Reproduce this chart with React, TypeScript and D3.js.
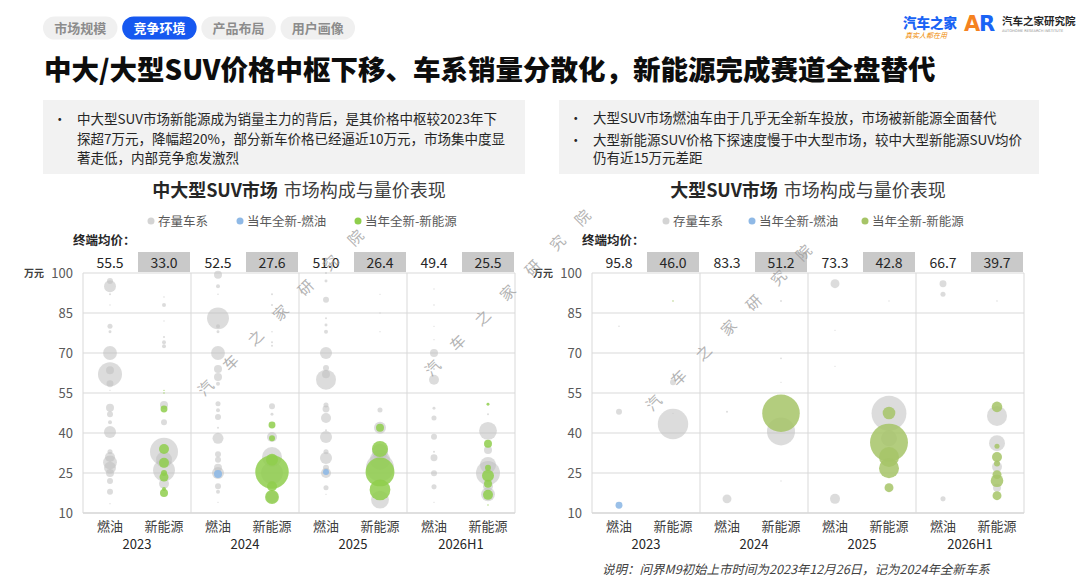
import React from "react";
import * as d3 from "d3";

// ---- data ----
const years = ["2023", "2024", "2025", "2026H1"];
const powertrains = ["燃油", "新能源"];
const yTicks = [10, 25, 40, 55, 70, 85, 100];
const legendLabels = ["存量车系", "当年全新-燃油", "当年全新-新能源"];

// terminal average price, order: year x powertrain
const midLargeAvgPrice = [55.5, 33.0, 52.5, 27.6, 51.0, 26.4, 49.4, 25.5];
const largeAvgPrice = [95.8, 46.0, 83.3, 51.2, 73.3, 42.8, 66.7, 39.7];

type Bubble = [string, string, number, number]; // year, powertrain, price (万元), sales

// 中大型SUV 存量车系
const midLargeStock: Bubble[] = [
	["2023", "燃油", 97, 2.25], ["2023", "燃油", 95, 9], ["2023", "燃油", 92, 0.25],
	["2023", "燃油", 88, 0.1], ["2023", "燃油", 80, 1.6], ["2023", "燃油", 78, 0.55],
	["2023", "燃油", 70, 12], ["2023", "燃油", 63.5, 4], ["2023", "燃油", 62, 36],
	["2023", "燃油", 58.5, 3], ["2023", "燃油", 56, 0.1], ["2023", "燃油", 49.5, 4],
	["2023", "燃油", 47, 2.25], ["2023", "燃油", 44, 1], ["2023", "燃油", 40.4, 9],
	["2023", "燃油", 33, 1.6], ["2023", "燃油", 31, 6.25], ["2023", "燃油", 29, 12],
	["2023", "燃油", 27, 9], ["2023", "燃油", 25, 4], ["2023", "燃油", 22, 2.25],
	["2023", "燃油", 18, 2.25], ["2023", "燃油", 13.5, 0.1],
	["2023", "新能源", 91, 0.15], ["2023", "新能源", 88, 1], ["2023", "新能源", 82, 0.1],
	["2023", "新能源", 76, 0.25], ["2023", "新能源", 74, 1], ["2023", "新能源", 72.5, 1],
	["2023", "新能源", 50.5, 4], ["2023", "新能源", 44, 2.25], ["2023", "新能源", 33, 49],
	["2023", "新能源", 30, 16], ["2023", "新能源", 26, 30], ["2023", "新能源", 21, 6.25],
	["2024", "燃油", 99.3, 4], ["2024", "燃油", 95, 1], ["2024", "燃油", 92, 0.15],
	["2024", "燃油", 83, 30], ["2024", "燃油", 80, 1], ["2024", "燃油", 78, 0.55],
	["2024", "燃油", 70, 12], ["2024", "燃油", 64, 4], ["2024", "燃油", 61, 4],
	["2024", "燃油", 58.5, 1], ["2024", "燃油", 51, 1.6], ["2024", "燃油", 48.5, 1],
	["2024", "燃油", 46, 2.25], ["2024", "燃油", 42, 0.25], ["2024", "燃油", 38, 7.5],
	["2024", "燃油", 32, 2.25], ["2024", "燃油", 30, 2.25], ["2024", "燃油", 27, 4],
	["2024", "燃油", 25, 9], ["2024", "燃油", 20, 2.25], ["2024", "燃油", 18, 1],
	["2024", "燃油", 14, 0.1],
	["2024", "新能源", 92, 0.25], ["2024", "新能源", 88, 0.25], ["2024", "新能源", 85, 0.1],
	["2024", "新能源", 78, 0.15], ["2024", "新能源", 74, 0.25], ["2024", "新能源", 72.7, 0.25],
	["2024", "新能源", 50, 2.25], ["2024", "新能源", 47, 0.55], ["2024", "新能源", 38.5, 6.25],
	["2024", "新能源", 31, 25], ["2024", "新能源", 25, 30], ["2024", "新能源", 16, 9],
	["2025", "燃油", 100, 0.25], ["2025", "燃油", 97, 0.55], ["2025", "燃油", 90, 2.25],
	["2025", "燃油", 83, 0.25], ["2025", "燃油", 80.5, 0.55], ["2025", "燃油", 78, 1],
	["2025", "燃油", 70, 9], ["2025", "燃油", 64.4, 2.25], ["2025", "燃油", 62, 4],
	["2025", "燃油", 60, 25], ["2025", "燃油", 50.5, 1.6], ["2025", "燃油", 49, 3],
	["2025", "燃油", 45.6, 6.25], ["2025", "燃油", 41, 0.25], ["2025", "燃油", 38.5, 9],
	["2025", "燃油", 33, 1.6], ["2025", "燃油", 30.6, 9], ["2025", "燃油", 27, 2.25],
	["2025", "燃油", 25, 6.25], ["2025", "燃油", 19.5, 1.6], ["2025", "燃油", 17, 0.1],
	["2025", "新能源", 92, 0.1], ["2025", "新能源", 85, 0.1], ["2025", "新能源", 78, 0.1],
	["2025", "新能源", 48.6, 1.6], ["2025", "新能源", 42, 9], ["2025", "新能源", 33, 16],
	["2025", "新能源", 30, 25], ["2025", "新能源", 27, 49], ["2025", "新能源", 15, 20],
	["2026H1", "燃油", 94, 0.1], ["2026H1", "燃油", 88, 0.15], ["2026H1", "燃油", 80, 0.1],
	["2026H1", "燃油", 75, 0.1], ["2026H1", "燃油", 70, 4], ["2026H1", "燃油", 64, 0.25],
	["2026H1", "燃油", 60, 6.25], ["2026H1", "燃油", 49.3, 0.55], ["2026H1", "燃油", 45.6, 1.6],
	["2026H1", "燃油", 38.6, 2.25], ["2026H1", "燃油", 33, 0.25], ["2026H1", "燃油", 30.7, 3],
	["2026H1", "燃油", 24.9, 2.25], ["2026H1", "燃油", 19.8, 1.6], ["2026H1", "燃油", 14, 0.1],
	["2026H1", "新能源", 47, 0.25], ["2026H1", "新能源", 40.8, 20], ["2026H1", "新能源", 33.6, 4],
	["2026H1", "新能源", 28, 16], ["2026H1", "新能源", 25, 36], ["2026H1", "新能源", 20, 6.25],
	["2026H1", "新能源", 17, 12],
];

// 中大型SUV 当年全新-燃油
const midLargeNewIce: Bubble[] = [
	["2024", "燃油", 24.6, 4],
	["2025", "燃油", 25.4, 2.25],
];

// 中大型SUV 当年全新-新能源
const midLargeNewNev: Bubble[] = [
	["2023", "新能源", 56, 0.1], ["2023", "新能源", 55, 0.1], ["2023", "新能源", 49, 3],
	["2023", "新能源", 34, 6.25], ["2023", "新能源", 28.8, 6.25], ["2023", "新能源", 25, 2.25],
	["2023", "新能源", 23.5, 5], ["2023", "新能源", 19, 1], ["2023", "新能源", 17.5, 4],
	["2024", "新能源", 43, 3], ["2024", "新能源", 38, 2.25], ["2024", "新能源", 30, 9],
	["2024", "新能源", 25.4, 70], ["2024", "新能源", 20, 6.25], ["2024", "新能源", 16, 12],
	["2025", "新能源", 42, 4], ["2025", "新能源", 34, 16], ["2025", "新能源", 25.4, 52],
	["2025", "新能源", 18.7, 27],
	["2026H1", "新能源", 50.8, 0.55], ["2026H1", "新能源", 36, 4], ["2026H1", "新能源", 27, 2.25],
	["2026H1", "新能源", 24, 9], ["2026H1", "新能源", 21, 4], ["2026H1", "新能源", 16.8, 6.25],
	["2026H1", "新能源", 13, 0.1],
];

// 大型SUV 存量车系
const largeStock: Bubble[] = [
	["2023", "燃油", 80, 0.15], ["2023", "燃油", 48, 2.25],
	["2023", "新能源", 59, 2.25], ["2023", "新能源", 47.4, 0.1], ["2023", "新能源", 43.4, 58],
	["2024", "燃油", 48, 0.25], ["2024", "燃油", 15.3, 5],
	["2024", "新能源", 89.5, 0.2], ["2024", "新能源", 68, 0.2], ["2024", "新能源", 59, 0.1],
	["2024", "新能源", 40.6, 49], ["2024", "新能源", 22, 0.1],
	["2025", "燃油", 96, 5], ["2025", "燃油", 78.5, 0.1], ["2025", "燃油", 65, 0.1],
	["2025", "燃油", 15.3, 6.25],
	["2025", "新能源", 89.5, 0.1], ["2025", "新能源", 47.4, 76], ["2025", "新能源", 38, 16],
	["2026H1", "燃油", 96, 3], ["2026H1", "燃油", 92, 1.6], ["2026H1", "燃油", 15.3, 1.6],
	["2026H1", "新能源", 89.5, 0.15], ["2026H1", "新能源", 46.4, 25], ["2026H1", "新能源", 36.2, 16],
	["2026H1", "新能源", 27.3, 6.25], ["2026H1", "新能源", 19.5, 4],
];

// 大型SUV 当年全新-燃油
const largeNewIce: Bubble[] = [["2023", "燃油", 12.9, 3]];

// 大型SUV 当年全新-新能源
const largeNewNev: Bubble[] = [
	["2023", "新能源", 89.5, 0.15],
	["2024", "新能源", 47.4, 88],
	["2025", "新能源", 47.5, 10], ["2025", "新能源", 36.4, 90], ["2025", "新能源", 31, 25],
	["2025", "新能源", 26.8, 25], ["2025", "新能源", 19.5, 5],
	["2026H1", "新能源", 49.8, 7], ["2026H1", "新能源", 35, 1.6], ["2026H1", "新能源", 31, 6.25],
	["2026H1", "新能源", 28.6, 2.25], ["2026H1", "新能源", 24.4, 5], ["2026H1", "新能源", 22.1, 10],
	["2026H1", "新能源", 16.5, 5],
];

const FONT = "'Noto Sans CJK SC', 'Noto Sans', sans-serif";
const GRID = "#d9d9d9";

type PanelProps = {
	left: number;
	titleBold: string;
	stock: Bubble[];
	newIce: Bubble[];
	newNev: Bubble[];
	avgPrice: number[];
	green: string;
	legendX: number[];
};

const BubblePanel: React.FC<PanelProps> = ({ left, titleBold, stock, newIce, newNev, avgPrice, green, legendX }) => {
	const width = 432;
	const top = 273;
	const bottom = 513;
	const x = d3.scaleBand<string>().domain(years).range([left, left + width]);
	const xi = d3.scaleBand<string>().domain(powertrains).range([0, x.bandwidth()]);
	const y = d3.scaleLinear().domain([10, 100]).range([bottom, top]);
	const r = d3.scaleSqrt().domain([0, 100]).range([0, 20]);
	const cx = (d: Bubble) => (x(d[0]) as number) + (xi(d[1]) as number) + xi.bandwidth() / 2;
	const blue = "#8fb9e6";
	const legendColors = ["#d4d4d4", blue, green];

	const slots = years.flatMap((yr) => powertrains.map((p) => [yr, p] as [string, string]));

	const dots = (data: Bubble[], fill: string, opacity: number, key: string) =>
		data.map((d, i) => (
			<circle key={key + i} cx={cx(d)} cy={y(d[2])} r={Math.max(r(d[3]), 0.6)} fill={fill} fillOpacity={opacity} />
		));

	const center = left + width / 2;

	return (
		<g fontFamily={FONT}>
			{/* title */}
			<text x={center} y={197} textAnchor="middle" fontSize={18} fill="#262626">
				<tspan fontWeight={700}>{titleBold}</tspan>
				<tspan dx={6} fill="#404040">市场构成与量价表现</tspan>
			</text>
			{/* legend */}
			{legendLabels.map((l, i) => (
				<g key={l}>
					<circle cx={legendX[i]} cy={221} r={3.5} fill={legendColors[i]} />
					<text x={legendX[i] + 7} y={225.5} fontSize={12.5} fill="#595959">{l}</text>
				</g>
			))}
			{/* average price row */}
			<text x={left - 10} y={245} fontSize={12.5} fontWeight={700} fill="#262626">终端均价：</text>
			{slots.map(([yr, p], i) => {
				const bx = (x(yr) as number) + (xi(p) as number);
				return (
					<g key={"avg" + i}>
						{p === "新能源" && (
							<rect x={bx + 1} y={252} width={xi.bandwidth() - 2} height={20} fill="#c9c9c9" />
						)}
						<text x={bx + xi.bandwidth() / 2} y={267.5} textAnchor="middle" fontSize={14} fill="#262626">
							{avgPrice[i].toFixed(1)}
						</text>
					</g>
				);
			})}
			{/* grid */}
			{yTicks.map((t) => (
				<g key={"t" + t}>
					<line x1={left} x2={left + width} y1={y(t)} y2={y(t)} stroke={t === 10 ? "#bfbfbf" : GRID} strokeWidth={1} />
					<text x={left - 10} y={y(t) + 4.5} textAnchor="end" fontSize={13} fill="#595959">{t}</text>
				</g>
			))}
			<text x={left - 39} y={y(100) + 4} textAnchor="end" fontSize={10} fontWeight={700} fill="#404040">万元</text>
			{years.map((yr) => (
				<line key={"v" + yr} x1={x(yr)} x2={x(yr)} y1={top} y2={bottom} stroke={GRID} />
			))}
			<line x1={left + width} x2={left + width} y1={top} y2={bottom} stroke={GRID} />
			{/* bubbles */}
			{dots(stock, "#bfbfbf", 0.55, "s")}
			{dots(newIce, blue, 0.9, "b")}
			{dots(newNev, green, 0.85, "g")}
			{/* x labels */}
			{slots.map(([yr, p], i) => (
				<text key={"c" + i} x={(x(yr) as number) + (xi(p) as number) + xi.bandwidth() / 2} y={531}
					textAnchor="middle" fontSize={13} fill="#404040">{p}</text>
			))}
			{years.map((yr) => (
				<text key={"y" + yr} x={(x(yr) as number) + x.bandwidth() / 2} y={549} textAnchor="middle" fontSize={13} fill="#262626">{yr}</text>
			))}
		</g>
	);
};

const watermarkChars = ["汽", "车", "之", "家", "研", "究", "院"];
const Watermark: React.FC<{ x: number; y: number }> = ({ x, y }) => (
	<g fontFamily={FONT} fontSize={15} fill="#9a9a9a" opacity={0.75}>
		{watermarkChars.map((c, i) => (
			<text key={i} x={x + i * 25} y={y - i * 25} textAnchor="middle" dominantBaseline="central"
				transform={`rotate(-45 ${x + i * 25} ${y - i * 25})`}>{c}</text>
		))}
	</g>
);

const tabs = ["市场规模", "竞争环境", "产品布局", "用户画像"];
const leftNotes = [
	"中大型SUV市场新能源成为销量主力的背后，是其价格中枢较2023年下",
	"探超7万元，降幅超20%，部分新车价格已经逼近10万元，市场集中度显",
	"著走低，内部竞争愈发激烈",
];
const rightNotes = [
	"大型SUV市场燃油车由于几乎无全新车投放，市场被新能源全面替代",
	"大型新能源SUV价格下探速度慢于中大型市场，较中大型新能源SUV均价",
	"仍有近15万元差距",
];

export default function App() {
	const tabX = d3.scaleBand<string>().domain(tabs).range([43, 355]).paddingInner(0.06);
	return (
		<svg width={1080} height={580} style={{ position: "absolute", left: 0, top: 0, background: "#fff" }} fontFamily={FONT}>
			<rect width={1080} height={580} fill="#fff" />
			{/* tabs */}
			{tabs.map((t, i) => (
				<g key={t}>
					<rect x={tabX(t)} y={16.5} width={tabX.bandwidth()} height={23} rx={11.5}
						fill={i === 1 ? "#1658f0" : "#f0f0f0"} />
					<text x={(tabX(t) as number) + tabX.bandwidth() / 2} y={33} textAnchor="middle" fontSize={13}
						fontWeight={700} fill={i === 1 ? "#fff" : "#8c8c8c"}>{t}</text>
				</g>
			))}
			{/* logo */}
			<text x={903} y={28} fontSize={13.5} fontWeight={900} fill="#1a64f5">汽车之家</text>
			<text x={905} y={38} fontSize={7} fill="#f08a00" fontStyle="italic">真实人都在用</text>
			<text x={964} y={31} fontSize={21} fontWeight={900} fill="#f5821f" fontFamily="'DejaVu Sans', sans-serif">A</text>
			<text x={979} y={31} fontSize={21} fontWeight={900} fill="#1a64f5" fontFamily="'DejaVu Sans', sans-serif">R</text>
			<text x={1002} y={25} fontSize={10.5} fontWeight={700} fill="#262626">汽车之家研究院</text>
			<text x={1002} y={32} fontSize={3.6} fill="#8c8c8c" fontFamily="'DejaVu Sans', sans-serif">AUTOHOME  RESEARCH  INSTITUTE</text>
			{/* main title */}
			<text x={44} y={80} fontSize={27.5} fontWeight={900} fill="#0d0d0d">
				中大/大型SUV价格中枢下移、车系销量分散化，新能源完成赛道全盘替代
			</text>
			{/* note boxes */}
			<rect x={43} y={100} width={482} height={74} fill="#f2f2f2" />
			<text x={53} y={124} fontSize={13.5} fill="#262626">•</text>
			{leftNotes.map((l, i) => (
				<text key={i} x={77} y={124 + i * 19.5} fontSize={13.5} fill="#262626">{l}</text>
			))}
			<rect x={559} y={100} width={480} height={74} fill="#f2f2f2" />
			<text x={569} y={123} fontSize={13.5} fill="#262626">•</text>
			<text x={569} y={145} fontSize={13.5} fill="#262626">•</text>
			{rightNotes.map((l, i) => (
				<text key={i} x={593} y={[123, 145, 163][i]} fontSize={13.5} fill="#262626">{l}</text>
			))}
			<BubblePanel left={83} titleBold="中大型SUV市场" stock={midLargeStock} newIce={midLargeNewIce}
				newNev={midLargeNewNev} avgPrice={midLargeAvgPrice} green="#8fce4c" legendX={[151, 240, 358]} />
			<BubblePanel left={592} titleBold="大型SUV市场" stock={largeStock} newIce={largeNewIce}
				newNev={largeNewNev} avgPrice={largeAvgPrice} green="#a6c467" legendX={[666, 752, 865]} />
			<Watermark x={205} y={387} />
			<Watermark x={432} y={367} />
			<Watermark x={653} y={402} />
			<text x={602} y={574} fontSize={12.5} fontStyle="italic" fill="#404040">
				说明：问界M9初始上市时间为2023年12月26日，记为2024年全新车系
			</text>
		</svg>
	);
}
